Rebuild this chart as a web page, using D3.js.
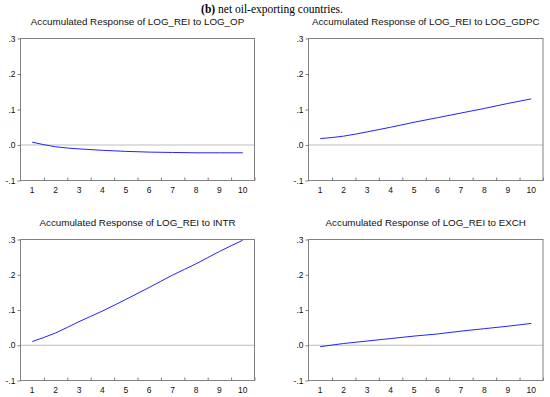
<!DOCTYPE html>
<html lang="en">
<head>
    <meta charset="UTF-8">
    <title>Accumulated Responses</title>
    <script src="https://cdn.jsdelivr.net/npm/d3@7"></script>
    <style>
      body { margin: 0; background: #fff; }
    </style>
</head>
<body>
    <div id="container"></div>

    <script>
      const periods = [1, 2, 3, 4, 5, 6, 7, 8, 9, 10];
      const yTicks = [0.3, 0.2, 0.1, 0.0, -0.1];
      const yTickLabels = [".3", ".2", ".1", ".0", "-.1"];

      const titles = [
          "Accumulated Response of LOG_REI to LOG_OP",
          "Accumulated Response of LOG_REI to LOG_GDPC",
          "Accumulated Response of LOG_REI to INTR",
          "Accumulated Response of LOG_REI to EXCH"
      ];

      const respOP = [0.008, -0.005, -0.011, -0.015, -0.018, -0.020, -0.021, -0.022, -0.022, -0.022];
      const respGDPC = [0.018, 0.025, 0.037, 0.050, 0.064, 0.077, 0.090, 0.103, 0.117, 0.130];
      const respINTR = [0.0105, 0.035, 0.067, 0.097, 0.130, 0.164, 0.199, 0.231, 0.266, 0.298];
      const respEXCH = [-0.004, 0.005, 0.012, 0.019, 0.026, 0.032, 0.040, 0.047, 0.054, 0.062];

      const width = 550;
      const height = 397;

      // frame boxes for each panel
      const panels = [
          { left: 20.5, right: 254.5, top: 38.5, bottom: 180.5, data: respOP, title: titles[0] },
          { left: 308.5, right: 543, top: 38.5, bottom: 180.5, data: respGDPC, title: titles[1] },
          { left: 20.5, right: 254.5, top: 239.5, bottom: 380.5, data: respINTR, title: titles[2] },
          { left: 308.5, right: 543, top: 239.5, bottom: 380.5, data: respEXCH, title: titles[3] }
      ];

      const svg = d3.select("#container").append("svg")
          .attr("width", width)
          .attr("height", height);

      const head = svg.append("text")
          .attr("x", 272)
          .attr("y", 13)
          .attr("text-anchor", "middle")
          .attr("font-family", "Liberation Serif, serif")
          .attr("font-size", 11.5)
          .attr("fill", "#000");
      head.append("tspan").attr("font-weight", "bold").text("(b)");
      head.append("tspan").text(" net oil-exporting countries.");

      panels.forEach(p => {
          const x = d3.scaleLinear()
              .domain([0.5, 10.5])
              .range([p.left, p.right]);

          const y = d3.scaleLinear()
              .domain([-0.1, 0.3])
              .range([p.bottom, p.top]);

          const g = svg.append("g");

          g.append("text")
              .attr("x", (p.left + p.right) / 2)
              .attr("y", p.top - 14)
              .attr("text-anchor", "middle")
              .attr("font-family", "Liberation Sans, Arial, sans-serif")
              .attr("font-size", 9.8)
              .attr("fill", "#111")
              .text(p.title);

          // zero line
          g.append("line")
              .attr("x1", p.left).attr("x2", p.right)
              .attr("y1", y(0)).attr("y2", y(0))
              .attr("stroke", "#bdbdbd")
              .attr("stroke-width", 1);

          // frame
          g.append("rect")
              .attr("x", p.left).attr("y", p.top)
              .attr("width", p.right - p.left)
              .attr("height", p.bottom - p.top)
              .attr("fill", "none")
              .attr("stroke", "#808080")
              .attr("stroke-width", 1);

          // y axis
          const yAxis = g.append("g")
              .attr("transform", `translate(${p.left},0)`)
              .call(d3.axisLeft(y)
                  .tickValues(yTicks)
                  .tickSize(3)
                  .tickPadding(2)
                  .tickFormat((d, i) => yTickLabels[i]));
          yAxis.select(".domain").remove();
          yAxis.selectAll("line").attr("stroke", "#808080");
          yAxis.selectAll("text")
              .attr("font-family", "Liberation Sans, Arial, sans-serif")
              .attr("font-size", 8.5)
              .attr("fill", "#111");

          // x axis: ticks between periods, pointing up
          const xAxis = g.append("g")
              .attr("transform", `translate(0,${p.bottom})`)
              .call(d3.axisTop(x)
                  .tickValues(periods.map(d => d + 0.5))
                  .tickSize(3)
                  .tickFormat(""));
          xAxis.select(".domain").remove();
          xAxis.selectAll("line").attr("stroke", "#808080");

          g.selectAll(".xlab")
              .data(periods)
              .join("text")
              .attr("class", "xlab")
              .attr("x", d => x(d))
              .attr("y", p.bottom + 12)
              .attr("text-anchor", "middle")
              .attr("font-family", "Liberation Sans, Arial, sans-serif")
              .attr("font-size", 8.5)
              .attr("fill", "#111")
              .text(d => d);

          const line = d3.line()
              .x((d, i) => x(periods[i]))
              .y(d => y(d))
              .curve(d3.curveMonotoneX);

          g.append("path")
              .datum(p.data)
              .attr("d", line)
              .attr("fill", "none")
              .attr("stroke", "#2222ff")
              .attr("stroke-width", 1);
      });
    </script>
</body>
</html>
